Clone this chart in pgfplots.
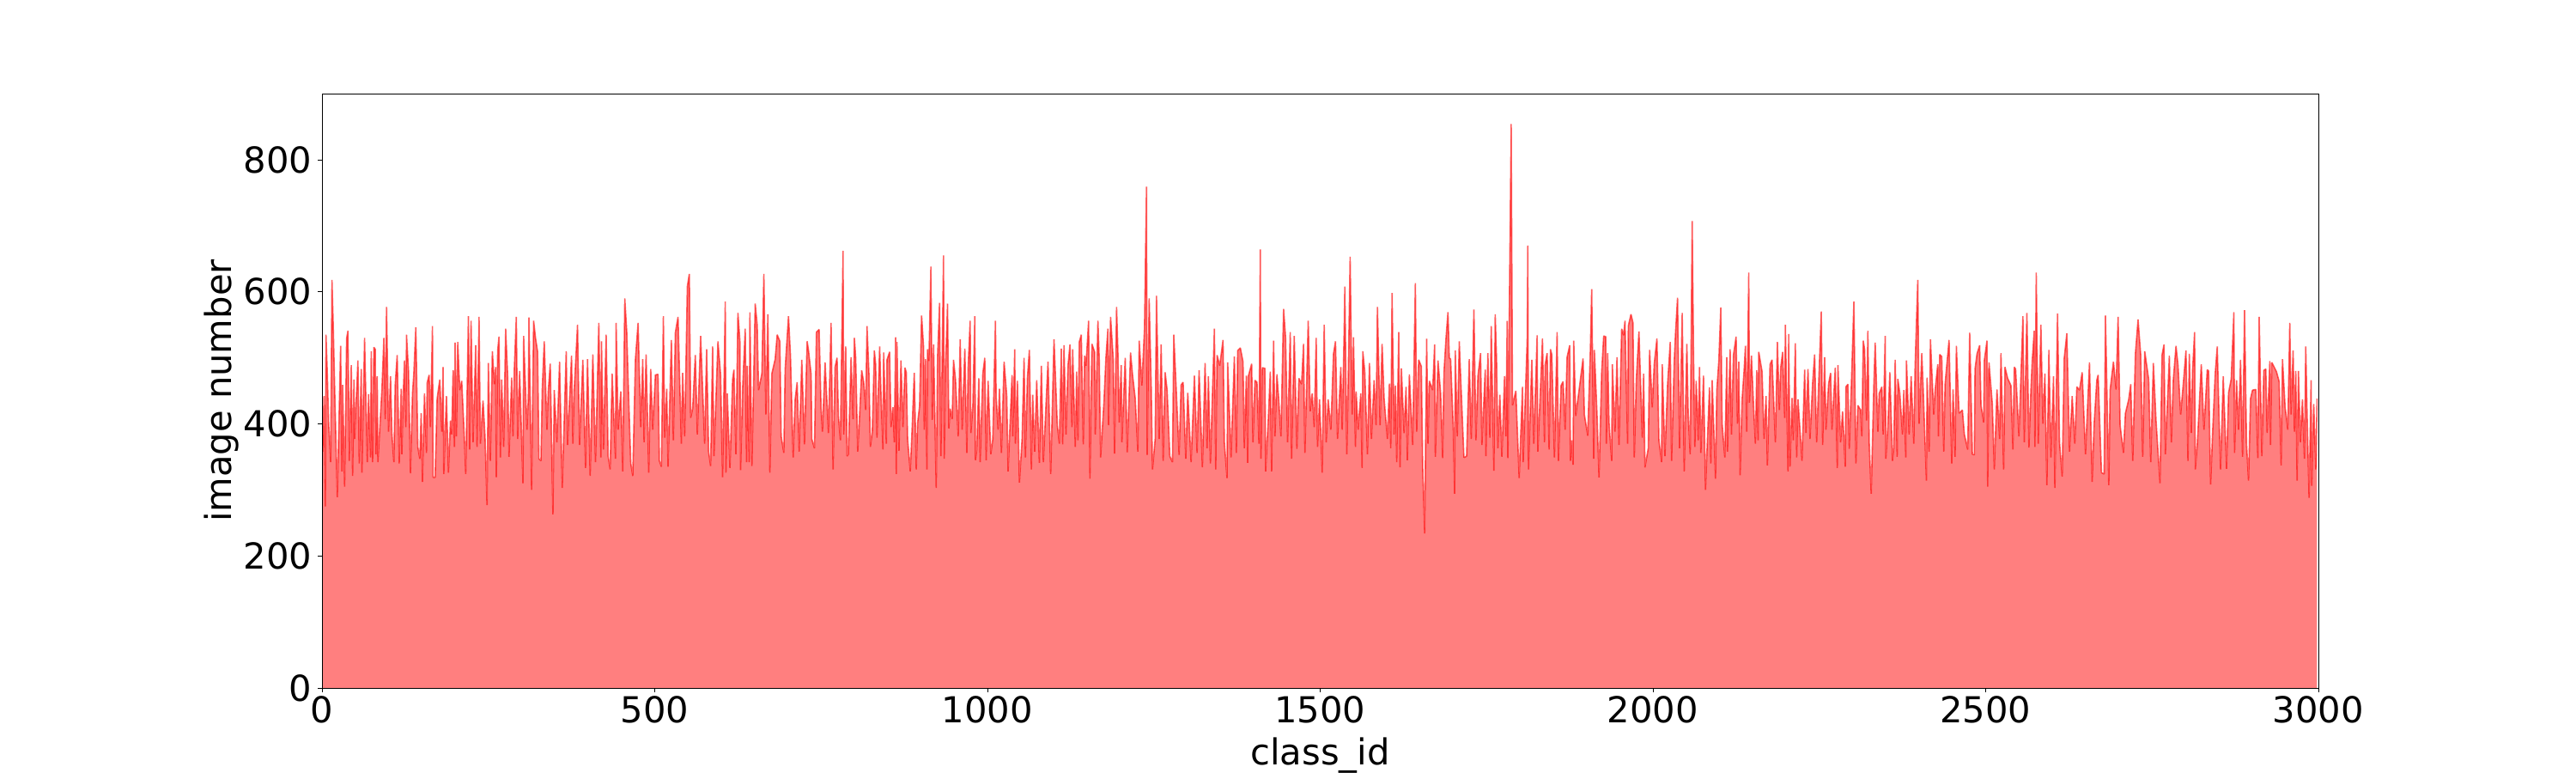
\documentclass[border=0pt]{standalone}
\usepackage{fontspec}
\setmainfont{DejaVu Sans}
\usepackage{pgfplots}
\usepackage{pgfplotstable}
\pgfplotsset{compat=1.18}
\pgfplotstableread{
x y
0 358
1 358
3 442
5 275
6 535
8 476
10 400
13 342
15 618
17 544
19 456
23 289
28 518
30 328
31 459
34 305
37 529
39 541
41 344
44 489
46 321
48 467
49 377
54 496
56 340
59 483
60 326
64 530
68 342
70 445
73 349
74 510
76 342
78 516
80 513
81 354
83 472
84 342
90 451
93 530
95 407
97 577
100 388
103 472
105 386
108 342
110 459
113 504
116 340
119 453
120 354
122 442
124 496
126 395
127 535
130 480
133 325
136 446
138 476
141 546
144 365
147 347
149 416
151 312
154 446
157 356
158 462
161 474
163 395
166 548
167 319
170 319
173 438
177 467
180 388
182 486
183 324
187 442
190 326
193 405
195 384
197 481
199 365
200 523
202 381
204 524
207 451
210 465
214 377
216 324
220 563
222 361
224 556
227 372
231 519
233 365
236 562
238 370
242 435
245 381
248 277
250 492
253 344
256 510
259 460
261 486
262 319
264 511
266 532
268 349
270 467
273 365
276 544
279 472
281 350
285 470
287 381
289 483
292 562
294 377
297 480
302 310
303 533
308 391
310 437
311 561
315 300
318 556
321 529
324 509
326 347
329 344
331 453
334 525
338 391
340 449
343 491
347 263
349 451
353 372
357 494
361 303
367 510
369 368
375 503
377 370
379 451
384 550
387 368
392 497
396 333
399 498
403 321
407 505
411 342
416 553
419 349
420 525
423 361
427 535
430 351
433 331
436 476
441 347
442 553
445 391
449 449
452 328
455 590
458 539
460 467
464 340
467 321
471 498
475 553
479 395
482 498
484 372
487 505
491 326
494 483
497 391
501 474
505 475
507 344
510 335
513 563
515 379
518 453
520 335
525 527
528 375
531 538
535 562
540 370
542 477
545 381
549 608
552 627
554 409
557 423
561 504
564 384
569 533
575 370
578 513
581 358
584 336
587 517
589 351
595 525
599 474
602 319
606 585
607 326
609 446
613 333
617 467
619 482
622 354
625 568
628 525
629 330
632 451
636 544
638 342
639 488
642 342
643 569
646 336
651 582
654 549
656 451
661 476
664 627
667 414
670 566
673 326
676 476
681 498
684 535
688 525
690 381
694 356
696 483
701 563
704 503
708 349
711 437
714 463
717 358
721 497
725 369
729 525
731 512
735 475
736 377
740 363
743 539
747 543
750 423
752 388
756 493
761 386
765 553
768 331
771 486
774 500
776 412
779 375
783 662
784 384
787 517
789 351
791 354
795 501
798 407
800 530
802 500
805 358
807 395
811 481
814 463
817 421
819 548
822 474
824 365
827 388
830 511
832 490
834 379
838 517
840 446
843 361
844 508
848 370
849 497
853 509
855 395
858 425
860 372
862 531
863 324
864 524
867 359
870 496
873 395
876 485
878 478
880 377
884 328
887 398
890 477
893 331
895 401
898 427
901 564
904 516
905 391
907 498
909 331
910 513
912 495
915 638
917 406
919 520
923 303
925 500
928 583
930 351
934 655
935 347
937 483
940 582
942 393
944 423
947 407
949 497
952 467
956 381
959 528
962 391
966 514
969 356
971 486
974 556
975 386
978 425
981 563
982 345
984 361
987 469
989 342
993 476
996 500
998 345
1001 465
1005 354
1008 377
1012 556
1013 442
1016 391
1018 453
1021 356
1025 494
1029 442
1031 328
1037 474
1038 381
1041 513
1042 370
1045 465
1048 311
1052 377
1055 500
1057 349
1060 469
1063 512
1066 331
1068 444
1071 358
1074 466
1078 341
1081 488
1084 342
1088 430
1091 494
1095 324
1100 528
1102 476
1105 398
1108 370
1111 514
1113 369
1115 519
1118 384
1121 488
1124 520
1127 395
1128 513
1132 365
1134 479
1136 375
1138 524
1141 535
1144 369
1146 503
1148 488
1152 556
1154 317
1157 521
1161 509
1162 384
1166 556
1168 497
1170 349
1175 432
1178 500
1181 544
1182 398
1185 562
1189 498
1191 355
1194 577
1196 511
1198 402
1201 489
1202 372
1207 500
1210 357
1215 508
1218 474
1222 439
1226 358
1228 526
1232 458
1236 545
1239 759
1240 353
1243 590
1246 460
1248 331
1252 377
1254 594
1258 377
1261 520
1264 344
1267 478
1270 451
1274 351
1278 342
1280 535
1283 467
1288 353
1291 459
1294 463
1298 347
1301 447
1306 342
1311 473
1315 356
1318 481
1323 334
1327 492
1330 363
1332 472
1335 340
1341 544
1343 331
1345 504
1349 488
1354 527
1356 372
1360 318
1361 493
1366 349
1371 502
1374 356
1376 511
1380 515
1384 494
1386 363
1389 473
1391 341
1392 472
1397 491
1399 372
1402 466
1405 463
1408 370
1410 664
1411 347
1413 485
1417 484
1418 328
1422 407
1425 479
1427 328
1430 526
1432 381
1435 475
1438 432
1441 381
1445 574
1448 530
1451 372
1455 539
1457 347
1461 533
1465 362
1468 469
1472 460
1475 521
1477 356
1482 556
1485 419
1488 446
1491 395
1494 530
1496 365
1499 437
1503 326
1506 550
1509 372
1512 437
1516 391
1520 506
1523 525
1526 377
1531 486
1533 391
1536 540
1537 608
1540 354
1542 460
1545 653
1548 414
1550 531
1553 365
1554 449
1557 391
1561 446
1563 333
1564 510
1567 479
1571 354
1574 492
1577 377
1581 466
1584 398
1586 577
1590 398
1593 521
1596 439
1601 377
1604 461
1606 363
1608 598
1611 384
1613 458
1615 342
1618 539
1620 334
1622 484
1626 386
1629 456
1631 345
1634 475
1639 368
1643 613
1645 388
1648 497
1652 487
1654 336
1657 234
1660 529
1662 370
1664 465
1669 451
1672 520
1673 350
1677 496
1681 446
1684 348
1686 478
1689 529
1692 569
1694 500
1696 498
1700 393
1702 294
1703 511
1706 381
1709 525
1711 473
1716 349
1720 351
1724 498
1727 377
1731 573
1734 375
1737 472
1741 507
1743 368
1748 482
1749 351
1752 507
1755 379
1757 548
1761 329
1763 566
1765 499
1767 363
1770 444
1773 350
1777 472
1779 381
1781 556
1782 348
1787 854
1789 428
1794 450
1799 318
1804 456
1805 342
1811 525
1812 670
1813 331
1818 497
1821 370
1826 534
1827 358
1831 453
1834 529
1837 372
1838 489
1841 507
1844 361
1846 513
1848 505
1852 349
1856 539
1858 344
1862 458
1865 464
1868 391
1871 501
1875 519
1876 344
1878 375
1880 338
1881 526
1884 412
1889 451
1895 499
1897 414
1902 382
1906 513
1908 604
1911 347
1912 512
1916 414
1919 319
1923 479
1926 533
1929 532
1930 370
1932 507
1934 402
1938 344
1939 490
1943 388
1946 501
1949 368
1953 544
1956 534
1958 556
1962 370
1963 548
1967 566
1970 553
1972 349
1975 466
1979 540
1984 379
1986 476
1988 334
1993 363
1995 512
1999 425
2002 491
2006 529
2009 375
2013 342
2014 490
2018 351
2022 459
2026 524
2028 344
2032 494
2034 539
2037 591
2040 363
2044 568
2047 328
2051 521
2053 414
2056 354
2059 707
2061 506
2063 365
2065 465
2068 375
2070 486
2072 356
2076 473
2079 300
2081 354
2085 455
2087 340
2089 466
2094 317
2096 451
2099 495
2102 576
2104 400
2108 349
2111 501
2112 358
2116 513
2118 384
2121 504
2125 532
2127 400
2129 494
2131 322
2134 437
2137 481
2139 518
2141 388
2144 629
2145 432
2148 503
2151 432
2154 370
2156 481
2158 375
2159 509
2164 479
2167 377
2170 442
2172 337
2176 490
2179 497
2184 372
2187 524
2190 421
2192 485
2195 509
2198 409
2199 550
2203 328
2204 536
2206 335
2209 439
2211 375
2214 522
2216 349
2218 437
2224 344
2228 482
2230 386
2233 483
2236 377
2240 462
2243 505
2246 372
2249 459
2253 570
2255 368
2258 501
2260 391
2264 461
2267 477
2269 391
2274 485
2277 333
2278 489
2282 372
2285 419
2289 335
2290 456
2293 460
2295 362
2298 453
2302 585
2305 340
2308 428
2312 421
2314 381
2316 526
2318 513
2321 405
2323 541
2325 372
2328 294
2332 460
2334 523
2338 388
2340 446
2344 456
2346 384
2349 533
2350 347
2353 395
2356 478
2360 344
2362 363
2364 497
2367 350
2368 468
2371 446
2375 384
2377 451
2380 349
2381 496
2385 384
2388 472
2392 370
2394 488
2398 618
2400 400
2404 507
2406 456
2411 314
2412 470
2415 358
2417 528
2422 414
2424 450
2428 490
2429 381
2431 505
2434 502
2437 358
2439 460
2445 527
2449 340
2451 452
2454 350
2456 518
2460 416
2465 421
2468 384
2473 361
2476 538
2480 354
2483 353
2484 483
2487 506
2491 519
2493 428
2497 402
2498 496
2502 526
2503 305
2505 493
2510 430
2513 331
2517 452
2521 377
2523 507
2527 331
2529 486
2533 469
2538 458
2541 361
2543 486
2545 483
2550 381
2556 563
2558 372
2562 568
2565 364
2568 451
2570 496
2573 541
2574 365
2576 629
2579 370
2583 550
2586 400
2589 476
2592 307
2595 512
2598 349
2602 472
2604 303
2608 567
2611 372
2615 320
2618 499
2622 537
2626 358
2630 442
2634 370
2637 456
2641 451
2645 478
2650 354
2656 493
2660 312
2663 400
2667 466
2669 474
2674 326
2678 324
2680 564
2685 307
2687 451
2692 494
2696 452
2699 562
2702 398
2707 356
2710 416
2715 437
2718 460
2721 344
2725 506
2729 558
2733 504
2736 350
2739 510
2745 467
2748 342
2752 492
2756 405
2762 310
2765 504
2768 520
2770 354
2776 503
2779 372
2782 467
2786 518
2789 489
2793 414
2798 473
2801 511
2804 344
2806 506
2809 386
2811 483
2814 539
2815 331
2818 368
2824 490
2828 391
2833 482
2835 480
2838 308
2841 386
2845 477
2848 517
2851 400
2853 331
2857 472
2862 332
2865 447
2869 468
2873 569
2874 356
2877 466
2880 391
2883 497
2886 350
2889 572
2892 370
2895 314
2898 438
2901 451
2906 452
2909 348
2911 562
2915 351
2918 481
2921 483
2923 386
2927 495
2928 368
2930 493
2937 479
2941 464
2944 337
2946 498
2950 425
2954 391
2957 553
2959 414
2962 511
2964 388
2966 480
2968 314
2970 480
2973 372
2976 437
2979 347
2981 517
2983 414
2986 288
2989 466
2990 306
2993 430
2996 331
2998 438
}\classdata
\begin{document}
\begin{tikzpicture}
\path[use as bounding box] (0,0) rectangle (1500pt,450pt);
\begin{axis}[
  at={(187.5pt,49.5pt)}, anchor=south west,
  scale only axis, width=1162.5pt, height=346pt,
  xmin=0, xmax=3000, ymin=0, ymax=900,
  xtick={0,500,1000,1500,2000,2500,3000},
  ytick={0,200,400,600,800},
  tick align=outside, tick pos=left,
  major tick length=2.45pt,
  every tick/.style={black,line width=0.4pt},
  axis line style={line width=0.5pt},
  axis on top,
  /pgf/number format/assume math mode=true,
  /pgf/number format/1000 sep={},
  tick label style={font=\fontsize{20.83}{24}\selectfont},
  label style={font=\fontsize{20.83}{24}\selectfont},
  xticklabel style={yshift=1pt},
  xlabel={class\_id}, ylabel={image number},
  xlabel style={at={(axis description cs:0.5,-0.1135)},anchor=center},
  ylabel style={at={(axis description cs:-0.0503,0.5)},anchor=center},
  clip=true,
]
\addplot[draw=none, fill=red, fill opacity=0.5] table[x=x,y=y] {\classdata} \closedcycle;
\addplot[red, opacity=0.6, line width=0.8pt, line join=bevel, no markers] table[x=x,y=y] {\classdata};
\end{axis}
\end{tikzpicture}
\end{document}
